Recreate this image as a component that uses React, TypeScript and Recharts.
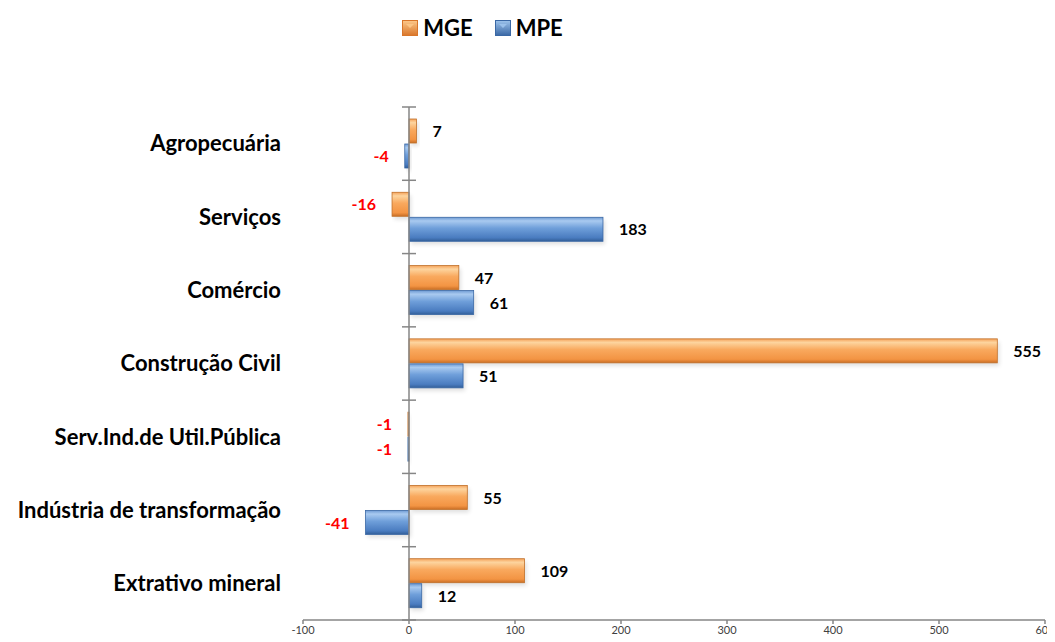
import React from "react";
import { BarChart, Bar, XAxis, YAxis, ReferenceLine, Legend, LabelList } from "recharts";

const categories = [
  "Agropecuária",
  "Serviços",
  "Comércio",
  "Construção Civil",
  "Serv.Ind.de Util.Pública",
  "Indústria de transformação",
  "Extrativo mineral",
];
const mgeValues = [7, -16, 47, 555, -1, 55, 109];
const mpeValues = [-4, 183, 61, 51, -1, -41, 12];
const xTicks = [-100, 0, 100, 200, 300, 400, 500, 600];

const data = categories.map((name, i) => ({ name, MGE: mgeValues[i], MPE: mpeValues[i] }));

const FONT = "Lato, 'Open Sans', sans-serif";

const makeShape = (gradId: string, stroke: string) => (props: any) => {
  const { x, y, width, height } = props;
  if (width == null || height == null) return null;
  const x0 = width < 0 ? x + width : x;
  const w = Math.abs(width);
  return (
    <g>
      <rect x={x0 + 2} y={y + 3} width={w} height={height} fill="#000" opacity={0.12} filter="url(#blurShadow)" />
      <rect x={x0} y={y} width={w} height={height} fill={`url(#${gradId})`} stroke={stroke} strokeWidth={0.8} />
    </g>
  );
};

const renderLabel = (props: any) => {
  const { x, y, width, height, value } = props;
  const neg = value < 0;
  const end = neg ? Math.min(x, x + width) : Math.max(x, x + width);
  return (
    <text
      x={neg ? end - 16 : end + 16}
      y={y + height / 2 + 2}
      textAnchor={neg ? "end" : "start"}
      dominantBaseline="middle"
      fontFamily={FONT}
      fontWeight={700}
      fontSize={16}
      fill={neg ? "#FF0000" : "#000"}
    >
      {value}
    </text>
  );
};

const ZeroLine = (props: any) => {
  const { x1, y1, x2, y2 } = props;
  const top = Math.min(y1, y2);
  const bottom = Math.max(y1, y2);
  const n = categories.length;
  const step = (bottom - top) / n;
  const ticks = [];
  for (let i = 0; i <= n; i++) {
    const ty = top + i * step;
    ticks.push(<line key={i} x1={x1 - 7} x2={x1 + 7} y1={ty} y2={ty} stroke="#868686" strokeWidth={1.5} />);
  }
  return (
    <g>
      <line x1={x1} x2={x2} y1={y1} y2={y2} stroke="#868686" strokeWidth={1.5} />
      {ticks}
    </g>
  );
};

const LegendIcon = ({ c1, c2, c3 }: { c1: string; c2: string; c3: string }) => (
  <svg width={16} height={16} style={{ marginRight: 5 }}>
    <defs>
      <linearGradient id={`lg${c2.replace("#", "")}`} x1="0" y1="0" x2="0" y2="1">
        <stop offset="0%" stopColor={c1} />
        <stop offset="100%" stopColor={c3} />
      </linearGradient>
    </defs>
    <rect x={0.5} y={0.5} width={15} height={15} fill={`url(#lg${c2.replace("#", "")})`} stroke={c3} />
    <polygon points="4,4 12,4 8,8" fill={c1} opacity={0.9} />
  </svg>
);

const renderLegend = () => (
  <div
    style={{
      display: "flex",
      justifyContent: "center",
      alignItems: "center",
      fontFamily: FONT,
      fontWeight: 700,
      fontSize: 22,
      color: "#000",
      paddingRight: 88,
    }}
  >
    <span style={{ display: "flex", alignItems: "center", marginRight: 22 }}>
      <LegendIcon c1="#FCC88A" c2="#F79646" c3="#D9762A" />
      MGE
    </span>
    <span style={{ display: "flex", alignItems: "center" }}>
      <LegendIcon c1="#9DC3EC" c2="#4F81BD" c3="#3A68A5" />
      MPE
    </span>
  </div>
);

export default function App() {
  return (
    <div style={{ width: 1050, height: 634 }}>
      <BarChart
        width={1050}
        height={634}
        data={data}
        layout="vertical"
        margin={{ top: 72, right: 13, bottom: 0, left: 0 }}
        barSize={24}
        barGap={1}
      >
        <defs>
          <linearGradient id="gradOrange" x1="0" y1="0" x2="0" y2="1">
            <stop offset="0%" stopColor="#F5A25A" />
            <stop offset="15%" stopColor="#FDD49E" />
            <stop offset="45%" stopColor="#F9A95E" />
            <stop offset="85%" stopColor="#F39443" />
            <stop offset="100%" stopColor="#C96E25" />
          </linearGradient>
          <linearGradient id="gradBlue" x1="0" y1="0" x2="0" y2="1">
            <stop offset="0%" stopColor="#6E9AD3" />
            <stop offset="15%" stopColor="#A9CAF0" />
            <stop offset="45%" stopColor="#6F9FDA" />
            <stop offset="85%" stopColor="#4A7CC0" />
            <stop offset="100%" stopColor="#325E98" />
          </linearGradient>
          <filter id="blurShadow" x="-10%" y="-50%" width="130%" height="200%">
            <feGaussianBlur stdDeviation="2" />
          </filter>
        </defs>
        <Legend verticalAlign="top" align="center" content={renderLegend} wrapperStyle={{ top: 6 }} />
        <XAxis
          type="number"
          domain={[-100, 600]}
          ticks={xTicks}
          interval={0}
          height={22}
          axisLine={{ stroke: "#868686", strokeWidth: 1.5 }}
          tickLine={{ stroke: "#868686", strokeWidth: 1.5 }}
          tickSize={4}
          tickMargin={2}
          tick={{ fontFamily: FONT, fontSize: 11, fill: "#404040" }}
        />
        <YAxis
          type="category"
          dataKey="name"
          width={295}
          axisLine={false}
          tickLine={false}
          tickSize={0}
          tickMargin={22}
          interval={0}
          tick={{ fontFamily: FONT, fontWeight: 700, fontSize: 22, fill: "#000" }}
        />
        <Bar dataKey="MGE" shape={makeShape("gradOrange", "#C0702A")} isAnimationActive={false}>
          <LabelList dataKey="MGE" content={renderLabel} />
        </Bar>
        <Bar dataKey="MPE" shape={makeShape("gradBlue", "#3A68A5")} isAnimationActive={false}>
          <LabelList dataKey="MPE" content={renderLabel} />
        </Bar>
        <ReferenceLine x={0} shape={ZeroLine} />
      </BarChart>
    </div>
  );
}
